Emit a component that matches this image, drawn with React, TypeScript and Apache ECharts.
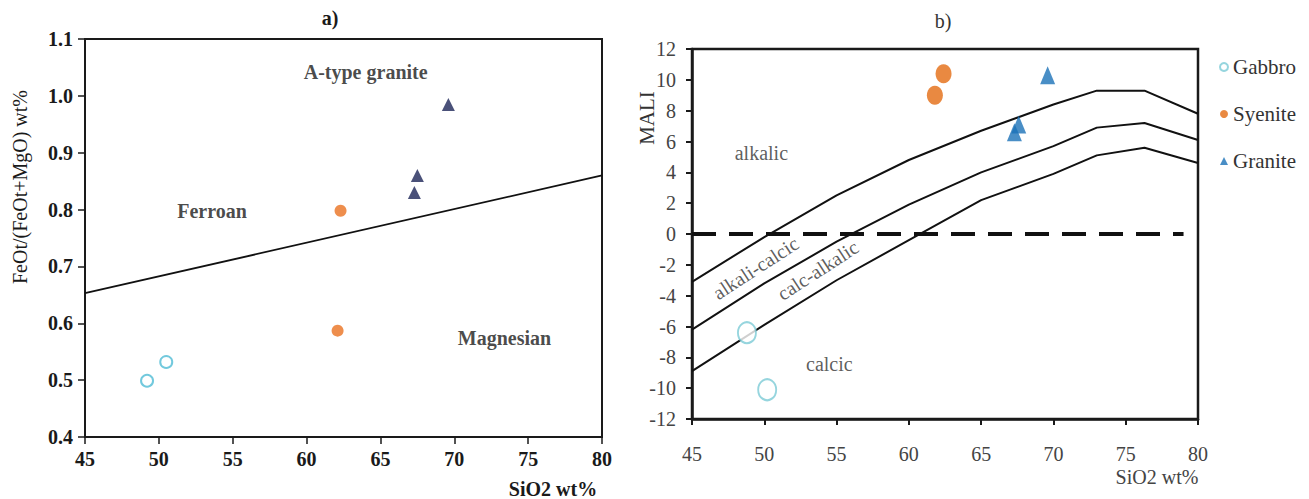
import React, { useEffect, useRef } from "react";
import * as echarts from "echarts";

// ---------- Panel a) data ----------
const aGabbro = [[49.2, 0.499], [50.5, 0.532]];
const aSyenite = [[62.3, 0.798], [62.1, 0.587]];
const aGranite = [[69.6, 0.985], [67.5, 0.86], [67.3, 0.83]];
const aBoundary = [[45, 0.653], [80, 0.86]];
const aLabels = [
  { name: "A-type granite", value: [64.0, 1.042] },
  { name: "Ferroan", value: [53.6, 0.797] },
  { name: "Magnesian", value: [73.4, 0.574] },
];

// ---------- Panel b) data ----------
const bGabbro = [[48.8, -6.4], [50.2, -10.1]];
const bSyenite = [[62.4, 10.4], [61.8, 9.0]];
const bGranite = [[69.6, 10.3], [67.6, 7.1], [67.3, 6.6]];
const bUpper = [[45, -3.1], [50, -0.2], [55, 2.5], [60, 4.8], [65, 6.7], [70, 8.4], [73, 9.3], [76.3, 9.3], [80, 7.8]];
const bMiddle = [[45, -6.2], [50, -3.2], [55, -0.5], [60, 1.9], [65, 4.0], [70, 5.7], [73, 6.9], [76.3, 7.2], [80, 6.1]];
const bLower = [[45, -8.9], [50, -5.9], [55, -3.0], [60, -0.4], [65, 2.2], [70, 3.9], [73, 5.1], [76.3, 5.6], [80, 4.6]];
const bZero = [[45, 0], [79, 0]];
const bLabels = [
  { name: "alkalic", value: [49.8, 5.25], rot: 0 },
  { name: "calcic", value: [54.5, -8.4], rot: 0 },
  { name: "alkali-calcic", value: [49.4, -2.2], rot: 33 },
  { name: "calc-alkalic", value: [53.7, -2.35], rot: 33 },
];

const SERIF = "'Liberation Serif', 'Times New Roman', serif";

export default function App() {
  const ref = useRef<HTMLDivElement>(null);
  useEffect(() => {
    document.body.style.margin = "0";
    const chart = echarts.init(ref.current!, null, { renderer: "svg" });
    const axisA = (min: number, max: number, interval: number, margin: number, fmt?: (v: number) => string) => ({
      type: "value",
      min,
      max,
      interval,
      axisLine: { show: true, onZero: false, lineStyle: { color: "#1a1a1a", width: 2 } },
      axisTick: { show: true, length: 7, lineStyle: { color: "#1a1a1a", width: 1.5 } },
      splitLine: { show: false },
      axisLabel: {
        color: "#1a1a1a",
        fontFamily: SERIF,
        fontWeight: "bold",
        fontSize: 20,
        margin,
        formatter: fmt,
      },
    });
    const axisB = (min: number, max: number, interval: number, margin: number) => ({
      type: "value",
      min,
      max,
      interval,
      axisLine: { show: true, onZero: false, lineStyle: { color: "#1a1a1a", width: 2.5 } },
      axisTick: { show: true, length: 6, lineStyle: { color: "#1a1a1a", width: 2 } },
      splitLine: { show: false },
      axisLabel: { color: "#444", fontFamily: SERIF, fontSize: 20, margin },
    });

    chart.setOption({
      animation: false,
      backgroundColor: "#fff",
      grid: [
        { left: 85, top: 39, width: 517, height: 398, show: true, borderColor: "#1a1a1a", borderWidth: 2, backgroundColor: "transparent" },
        { left: 692, top: 49, width: 506, height: 370, show: true, borderColor: "#1a1a1a", borderWidth: 2.5, backgroundColor: "transparent" },
      ],
      xAxis: [
        { gridIndex: 0, ...axisA(45, 80, 5, 12) },
        { gridIndex: 1, ...axisB(45, 80, 5, 25) },
      ],
      yAxis: [
        { gridIndex: 0, ...axisA(0.4, 1.1, 0.1, 12, (v: number) => v.toFixed(1)) },
        { gridIndex: 1, ...axisB(-12, 12, 2, 16) },
      ],
      legend: {
        data: ["Gabbro", "Syenite", "Granite"],
        orient: "vertical",
        left: 1214,
        top: 51,
        itemGap: 25,
        itemWidth: 8,
        itemHeight: 8,
        selectedMode: false,
        textStyle: { fontFamily: SERIF, fontSize: 21, color: "#333", lineHeight: 22 },
      },
      graphic: [
        { type: "text", x: 330, y: 18, style: { text: "a)", font: `bold 20px ${SERIF}`, fill: "#1a1a1a", align: "center", verticalAlign: "middle" } },
        { type: "text", x: 943, y: 21, style: { text: "b)", font: `20px ${SERIF}`, fill: "#333", align: "center", verticalAlign: "middle" } },
        { type: "text", x: 20, y: 187, rotation: Math.PI / 2, style: { text: "FeOt/(FeOt+MgO) wt%", font: `20px ${SERIF}`, fill: "#1a1a1a", align: "center", verticalAlign: "middle" } },
        { type: "text", x: 553, y: 489, style: { text: "SiO2 wt%", font: `bold 20px ${SERIF}`, fill: "#1a1a1a", align: "center", verticalAlign: "middle" } },
        { type: "text", x: 647, y: 118, rotation: Math.PI / 2, style: { text: "MALI", font: `21px ${SERIF}`, fill: "#333", align: "center", verticalAlign: "middle" } },
        { type: "text", x: 1157, y: 477, style: { text: "SiO2 wt%", font: `20px ${SERIF}`, fill: "#444", align: "center", verticalAlign: "middle" } },
      ],
      series: [
        // ---- panel a ----
        {
          name: "aBoundary", type: "line", xAxisIndex: 0, yAxisIndex: 0, data: aBoundary,
          showSymbol: false, symbol: "none", lineStyle: { color: "#111", width: 1.8 }, z: 2,
        },
        {
          name: "aGabbro", type: "scatter", xAxisIndex: 0, yAxisIndex: 0, data: aGabbro,
          symbol: "circle", symbolSize: 12, itemStyle: { color: "#fff", borderColor: "#4fbcd4", borderWidth: 2 },
        },
        {
          name: "aSyenite", type: "scatter", xAxisIndex: 0, yAxisIndex: 0, data: aSyenite,
          symbol: "circle", symbolSize: 12, itemStyle: { color: "#ea7220" },
        },
        {
          name: "aGranite", type: "scatter", xAxisIndex: 0, yAxisIndex: 0, data: aGranite,
          symbol: "triangle", symbolSize: 13, itemStyle: { color: "#1d2558" },
        },
        {
          name: "aLabels", type: "scatter", xAxisIndex: 0, yAxisIndex: 0, symbolSize: 0, silent: true,
          data: aLabels.map((d) => ({ name: d.name, value: d.value })),
          label: {
            show: true, position: "inside", formatter: "{b}",
            fontFamily: SERIF, fontWeight: "bold", fontSize: 20, color: "#1a1a1a",
          },
        },
        // ---- panel b ----
        ...[bUpper, bMiddle, bLower].map((d, i) => ({
          name: "bLine" + i, type: "line", xAxisIndex: 1, yAxisIndex: 1, data: d,
          showSymbol: false, symbol: "none", lineStyle: { color: "#111", width: 2 }, z: 2,
        })),
        {
          name: "bZero", type: "line", xAxisIndex: 1, yAxisIndex: 1, data: bZero,
          showSymbol: false, symbol: "none", lineStyle: { color: "#111", width: 3.8, type: [24, 13] }, z: 2,
        },
        {
          name: "Gabbro", type: "scatter", xAxisIndex: 1, yAxisIndex: 1, data: bGabbro,
          symbol: "circle", symbolSize: [18, 21], itemStyle: { color: "#fff", borderColor: "#7ccad6", borderWidth: 2 },
        },
        {
          name: "Syenite", type: "scatter", xAxisIndex: 1, yAxisIndex: 1, data: bSyenite,
          symbol: "circle", symbolSize: [16, 19], itemStyle: { color: "#e46c12" },
        },
        {
          name: "Granite", type: "scatter", xAxisIndex: 1, yAxisIndex: 1, data: bGranite,
          symbol: "triangle", symbolSize: [15, 18], itemStyle: { color: "#1c72b8" },
        },
        {
          name: "bLabels", type: "scatter", xAxisIndex: 1, yAxisIndex: 1, symbolSize: 0, silent: true,
          data: bLabels.map((d) => ({ name: d.name, value: d.value, label: { rotate: d.rot } })),
          label: {
            show: true, position: "inside", formatter: "{b}",
            fontFamily: SERIF, fontSize: 20, color: "#333",
          },
        },
      ],
    });
    return () => chart.dispose();
  }, []);
  return <div ref={ref} style={{ width: 1309, height: 499 }} />;
}
